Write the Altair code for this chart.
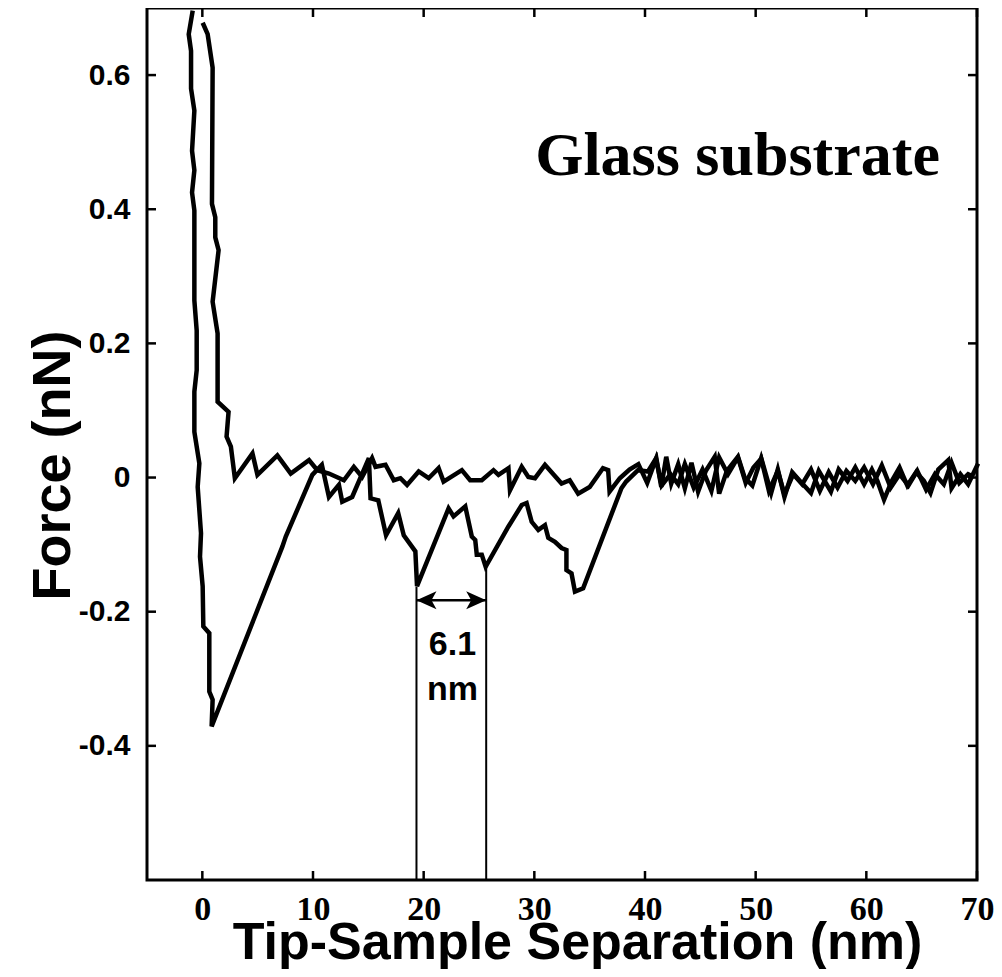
import altair as alt
import pandas as pd

# ---- data ----
approach_x = [0.03, 0.48, 0.93, 0.87, 1.17, 1.17, 1.47, 0.93, 1.38, 1.38,
              2.37, 2.19, 2.58, 2.94, 4.53, 4.98, 6.78, 7.99, 9.64, 10.39,
              11.44, 12.79, 13.69, 14.44, 15.34, 15.65, 16.55, 17.3, 17.9, 18.5,
              19.55, 20.45, 21.35, 21.8, 23.45, 24.2, 25.25, 26.31, 26.76, 27.66,
              27.8, 28.86, 29.46, 30.06, 30.96, 32.46, 33.2, 33.96, 35.0, 36.2,
              36.67, 36.8, 37.72, 38.6, 39.4, 40.2, 41.0, 41.5, 42.3, 43.0,
              43.6, 44.4, 45.2, 46.0, 46.7, 47.5, 48.4, 49.1, 49.8, 50.5,
              51.2, 52.0, 52.6, 53.4, 54.2, 55.0, 55.8, 56.6, 57.4, 58.2,
              59.0, 59.8, 60.6, 61.4, 62.2, 63.0, 63.8, 64.6, 65.4, 66.2,
              67.0, 67.7, 68.4, 69.2, 69.6]
approach_y = [0.678, 0.661, 0.611, 0.408, 0.388, 0.358, 0.339, 0.262, 0.215, 0.113,
              0.098, 0.061, 0.046, -0.001, 0.036, 0.004, 0.033, 0.006, 0.026, 0.011,
              0.006, -0.004, 0.016, 0.001, 0.029, 0.016, 0.019, -0.004, -0.001, -0.011,
              0.009, -0.001, 0.014, -0.006, 0.011, -0.004, -0.004, 0.011, 0.004, 0.014,
              -0.019, 0.016, 0.001, -0.001, 0.019, -0.009, -0.004, -0.024, -0.014, 0.014,
              0.011, -0.021, -0.001, 0.012, 0.020, -0.008, 0.028, -0.012, 0.005, -0.010,
              0.020, -0.015, 0.012, -0.020, 0.030, 0.005, 0.030, -0.008, 0.015, 0.028,
              -0.020, 0.010, -0.025, 0.005, -0.010, 0.012, -0.020, 0.008, -0.015, 0.010,
              -0.005, 0.015, -0.010, 0.018, -0.015, 0.005, -0.012, 0.010, -0.018, 0.005,
              -0.010, 0.022, -0.008, 0.005, 0.002]

retract_x = [-0.87, -1.23, -1.02, -1.02, -0.72, -0.93, -0.72, -0.93, -0.72, -0.72,
             -0.51, -0.51, -0.72, -0.72, -0.27, -0.42, -0.12, -0.21, 0.03, 0.09,
             0.63, 0.63, 0.93, 0.84, 7.23, 7.54, 9.94, 10.8, 11.44, 12.34,
             12.64, 13.54, 15.05, 15.2, 15.9, 16.6, 17.7, 18.2, 19.25, 19.4,
             22.25, 22.7, 23.76, 24.35, 24.66, 24.8, 25.25, 25.6, 27.66, 28.86,
             29.3, 29.76, 30.36, 30.96, 31.26, 31.86, 32.46, 32.9, 32.9, 33.36,
             33.67, 34.41, 37.87, 38.3, 39.37, 40.27, 41.02, 41.47, 41.92, 42.37,
             43.0, 43.6, 44.2, 44.8, 45.5, 46.3, 46.7, 47.4, 48.4, 49.0,
             49.7, 50.5, 51.4, 52.0, 52.6, 53.3, 54.0, 55.0, 55.7, 56.8,
             57.5, 58.3, 59.0, 59.8, 60.5, 61.0, 61.6, 62.3, 63.0, 63.7,
             64.5, 65.2, 65.8, 66.5, 67.4, 67.7, 68.5, 69.2, 70.1]
retract_y = [0.696, 0.661, 0.636, 0.580, 0.547, 0.487, 0.458, 0.425, 0.398, 0.264,
             0.219, 0.160, 0.128, 0.068, 0.021, -0.014, -0.083, -0.118, -0.162, -0.222,
             -0.232, -0.319, -0.331, -0.371, -0.103, -0.088, 0.004, 0.019, -0.029, -0.011,
             -0.036, -0.029, 0.029, -0.031, -0.034, -0.086, -0.053, -0.086, -0.110, -0.162,
             -0.046, -0.058, -0.043, -0.088, -0.093, -0.115, -0.115, -0.133, -0.073, -0.041,
             -0.038, -0.066, -0.078, -0.071, -0.090, -0.096, -0.105, -0.108, -0.138, -0.143,
             -0.170, -0.165, -0.016, -0.006, 0.011, 0.009, 0.029, -0.014, 0.031, -0.009,
             0.020, -0.016, 0.022, -0.021, 0.010, 0.031, -0.024, 0.010, 0.031, 0.000,
             -0.012, 0.029, -0.023, 0.012, -0.029, 0.008, -0.005, -0.023, 0.010, -0.021,
             0.012, -0.005, 0.015, -0.010, 0.012, -0.005, -0.033, -0.005, 0.015, -0.012,
             0.008, -0.005, -0.023, 0.012, 0.026, -0.016, 0.005, -0.010, 0.021]

x_ticks = [0, 10, 20, 30, 40, 50, 60, 70]
y_ticks = [-0.4, -0.2, 0.0, 0.2, 0.4, 0.6]

# annotation: rupture peaks separated by 6.1 nm
marker_x = [19.35, 25.65]
marker_top = [-0.163, -0.133]
arrow_y = -0.183
label_lines = ["6.1", "nm"]
label_y = [-0.265, -0.332]
label_x = 22.6
panel_title = "Glass substrate"

# ---- build tables (common field names: sep / force) ----
curves = pd.concat([
    pd.DataFrame({"sep": approach_x, "force": approach_y, "curve": "approach",
                  "i": range(len(approach_x))}),
    pd.DataFrame({"sep": retract_x, "force": retract_y, "curve": "retract",
                  "i": range(len(retract_x))}),
])
xt = pd.DataFrame({"sep": x_ticks})
yt = pd.DataFrame({"force": y_ticks})
markers = pd.DataFrame({"sep": marker_x, "force": marker_top, "force2": [-0.6, -0.6]})
arrow = pd.DataFrame({"sep": [marker_x[0]], "sep2": [marker_x[1]], "force": [arrow_y]})
head_l = pd.DataFrame({"sep": [marker_x[0]], "force": [arrow_y]})
head_r = pd.DataFrame({"sep": [marker_x[1]], "force": [arrow_y]})
labels = pd.DataFrame({"sep": [label_x, label_x], "force": label_y, "t": label_lines})
title_df = pd.DataFrame({"sep": [66.65], "force": [0.451], "t": [panel_title]})

W, H = 830, 872
xscale = alt.Scale(domain=[-5, 70], nice=False, zero=False)
yscale = alt.Scale(domain=[-0.6, 0.7], nice=False, zero=False)

x_axis = alt.Axis(values=x_ticks, title="Tip-Sample Separation (nm)",
                  titleFont="Liberation Sans", titleFontSize=52, titleFontWeight="bold",
                  titleColor="black", titleX=430, titleY=78, titleAlign="center",
                  titleBaseline="alphabetic",
                  labelFont="Liberation Serif", labelFontSize=34, labelFontWeight="bold",
                  labelColor="black", labelPadding=12, labelFlush=False, labelOverlap=False,
                  ticks=False, tickSize=0, domain=False, grid=False)
y_axis = alt.Axis(values=y_ticks, title="Force (nN)",
                  titleFont="Liberation Sans", titleFontSize=54, titleFontWeight="bold",
                  titleColor="black", titleX=-78, titleY=457, titleAlign="center",
                  titleBaseline="alphabetic", titleAngle=270,
                  labelFont="Liberation Sans", labelFontSize=30, labelFontWeight="bold",
                  labelColor="black", labelPadding=17, labelOverlap=False,
                  labelExpr="datum.value == 0 ? '0' : (datum.value < 0 ? '-' + format(-datum.value, '.1f') : format(datum.value, '.1f'))",
                  ticks=False, tickSize=0, domain=False, grid=False)

X = alt.X("sep:Q", scale=xscale, axis=x_axis, title="Tip-Sample Separation (nm)")
Y = alt.Y("force:Q", scale=yscale, axis=y_axis, title="Force (nN)")

lines = alt.Chart(curves).mark_line(color="black", strokeWidth=4.5, strokeJoin="miter",
                                    strokeCap="butt").encode(
    x=X, y=Y, detail="curve:N", order="i:Q",
)

tick_w = 2.5
tick_len = 9
bottom_ticks = alt.Chart(xt).mark_rule(color="black", strokeWidth=tick_w).encode(
    x=X, y=alt.value(H), y2=alt.value(H - tick_len))
top_ticks = alt.Chart(xt).mark_rule(color="black", strokeWidth=tick_w).encode(
    x=X, y=alt.value(0), y2=alt.value(tick_len))
left_ticks = alt.Chart(yt).mark_rule(color="black", strokeWidth=tick_w).encode(
    y=Y, x=alt.value(0), x2=alt.value(tick_len))
right_ticks = alt.Chart(yt).mark_rule(color="black", strokeWidth=tick_w).encode(
    y=Y, x=alt.value(W), x2=alt.value(W - tick_len))

vlines = alt.Chart(markers).mark_rule(color="black", strokeWidth=2).encode(
    x=X, y=Y, y2="force2:Q",
)
shaft = alt.Chart(arrow).mark_rule(color="black", strokeWidth=2.5).encode(
    x=X, x2="sep2:Q", y=Y,
)
left_head = alt.Chart(head_l).mark_point(
    shape="M0,0 L2,-0.9 L1.5,0 L2,0.9 Z", size=400, filled=True, color="black",
    opacity=1, strokeWidth=0).encode(x=X, y=Y)
right_head = alt.Chart(head_r).mark_point(
    shape="M0,0 L-2,-0.9 L-1.5,0 L-2,0.9 Z", size=400, filled=True, color="black",
    opacity=1, strokeWidth=0).encode(x=X, y=Y)

ann_text = alt.Chart(labels).mark_text(font="Liberation Sans", fontSize=34, fontWeight="bold",
                                       color="black", align="center",
                                       baseline="alphabetic").encode(
    x=X, y=Y, text="t:N")

title_text = alt.Chart(title_df).mark_text(font="Liberation Serif", fontSize=62,
                                           fontWeight="bold", color="black", align="right",
                                           baseline="alphabetic").encode(
    x=X, y=Y, text="t:N")

chart = alt.layer(
    lines, bottom_ticks, top_ticks, left_ticks, right_ticks,
    vlines, shaft, left_head, right_head, ann_text, title_text,
).properties(
    width=W, height=H,
    background="white",
    autosize=alt.AutoSizeParams(type="none"),
    padding={"left": 139, "top": 0, "right": 17, "bottom": 89},
).configure_view(
    stroke="black", strokeWidth=3
)

chart.save("out.html", embed_options={"renderer": "svg", "actions": False})
